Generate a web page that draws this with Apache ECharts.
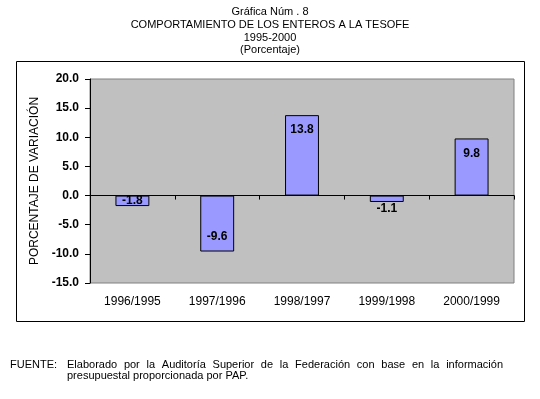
<!DOCTYPE html>
<html>
<head>
<meta charset="utf-8">
<script src="https://cdn.jsdelivr.net/npm/echarts@6/dist/echarts.min.js"></script>
<style>
	html, body { margin: 0; padding: 0; background: #fff; }
	#chart { width: 540px; height: 399px; }
</style>
</head>
<body>
<div id="chart"></div>
<script>
	// datos de la gráfica
	const categorias = ['1996/1995', '1997/1996', '1998/1997', '1999/1998', '2000/1999'];
	const variacion = [-1.8, -9.6, 13.8, -1.1, 9.8];
	const yTicks = { min: -15, max: 20, interval: 5 };
	const titulo = ['Gráfica Núm . 8', 'COMPORTAMIENTO DE LOS ENTEROS A LA TESOFE', '1995-2000', '(Porcentaje)'];
	const ejeY = 'PORCENTAJE DE VARIACIÓN';
	const fuenteEtiqueta = 'FUENTE:';
	const fuenteLinea1 = 'Elaborado por la Auditoría Superior de la Federación con base en la información';
	const fuenteLinea2 = 'presupuestal proporcionada por PAP.';

	const FONT = '"Liberation Sans", Arial, sans-serif';

	// posición de etiqueta según el tamaño de la barra
	function labelFor(v) {
		if (v >= 0) return { position: 'insideTop', distance: 9 };
		if (v < -5) return { position: 'inside', offset: [0, 13] };
		if (v < -1.5) return { position: 'inside', offset: [0, 0] };
		return { position: 'inside', offset: [0, 10] };
	}

	// texto justificado del pie
	const ctx = document.createElement('canvas').getContext('2d');
	ctx.font = '11px ' + FONT;
	function justified(text, x0, x1, y) {
		const words = text.split(' ');
		const widths = words.map(w => ctx.measureText(w).width);
		const total = widths.reduce((a, b) => a + b, 0);
		const gap = (x1 - x0 - total) / (words.length - 1);
		let x = x0;
		return words.map((w, i) => {
			const el = { type: 'text', x: x, y: y, style: { text: w, font: '11px ' + FONT, fill: '#000', textVerticalAlign: 'middle' } };
			x += widths[i] + gap;
			return el;
		});
	}

	const myChart = echarts.init(document.getElementById('chart'), null, { renderer: 'canvas' });
	const option = {
		animation: false,
		backgroundColor: '#fff',
		title: {
			text: titulo.join('\n'),
			left: 'center',
			top: 1,
			textStyle: { fontFamily: FONT, fontSize: 11, fontWeight: 'normal', color: '#000', lineHeight: 12.7 }
		},
		grid: {
			left: 90, right: 26, top: 79, bottom: 116,
			show: true, backgroundColor: '#c0c0c0', borderColor: '#808080', borderWidth: 1
		},
		xAxis: [{
			type: 'category',
			data: categorias,
			position: 'bottom',
			axisLine: { onZero: true, lineStyle: { color: '#000', width: 1 } },
			axisTick: { show: true, length: 4, lineStyle: { color: '#000' } },
			axisLabel: { show: false }
		}, {
			type: 'category',
			data: categorias,
			position: 'bottom',
			axisLine: { show: false, onZero: false },
			axisTick: { show: false },
			axisLabel: { margin: 13, color: '#000', fontFamily: FONT, fontSize: 12 }
		}],
		yAxis: {
			type: 'value',
			min: yTicks.min, max: yTicks.max, interval: yTicks.interval,
			name: ejeY,
			nameLocation: 'middle',
			nameGap: 48,
			nameTextStyle: { fontFamily: FONT, fontSize: 12, color: '#000' },
			axisLine: { show: true, lineStyle: { color: '#000' } },
			axisTick: { show: true, length: 5, lineStyle: { color: '#000' } },
			axisLabel: {
				margin: 11, color: '#000', fontFamily: FONT, fontSize: 12, fontWeight: 'bold',
				formatter: v => v.toFixed(1)
			},
			splitLine: { show: false }
		},
		series: [{
			type: 'bar',
			xAxisIndex: 0,
			barCategoryGap: '60%',
			data: variacion.map(v => ({ value: v, label: labelFor(v) })),
			itemStyle: { color: '#9999ff', borderColor: '#000', borderWidth: 1 },
			label: {
				show: true, color: '#000', fontFamily: FONT, fontSize: 12, fontWeight: 'bold',
				formatter: p => p.value.toFixed(1)
			}
		}],
		graphic: [
			{ type: 'rect', shape: { x: 16.5, y: 61.5, width: 508, height: 260 }, style: { fill: null, stroke: '#000', lineWidth: 1 }, z: -1 },
			{ type: 'text', x: 10, y: 365, style: { text: fuenteEtiqueta, font: '11px ' + FONT, fill: '#000', textVerticalAlign: 'middle' } },
			...justified(fuenteLinea1, 67, 503, 365),
			{ type: 'text', x: 67, y: 376, style: { text: fuenteLinea2, font: '11px ' + FONT, fill: '#000', textVerticalAlign: 'middle' } }
		]
	};
	myChart.setOption(option);
</script>
</body>
</html>
